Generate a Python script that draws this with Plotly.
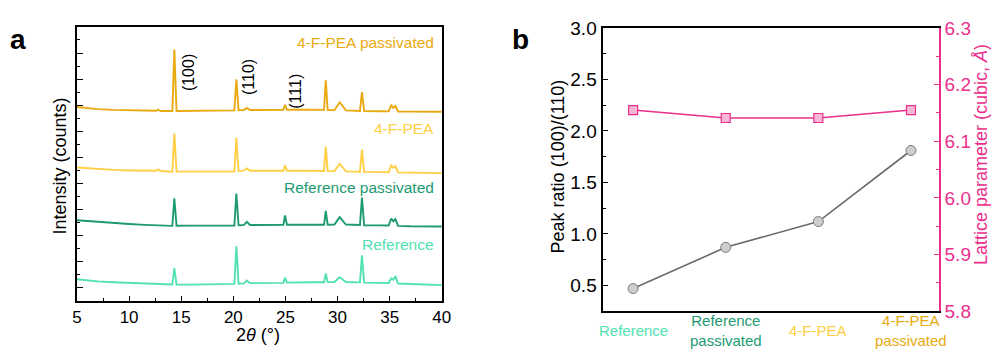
import plotly.graph_objects as go

FONT = "Liberation Sans, Arial, sans-serif"

# ---------------- Panel a: XRD patterns (stacked, arbitrary counts) ----------------
two_theta_ref = [5, 6, 7, 8.5, 10, 11.5, 13, 14.15, 14.34, 14.55, 16, 18, 20.1, 20.29, 20.5, 21.0, 21.3, 21.6,
                 23, 24.8, 24.96, 25.15, 27, 28.7, 28.87, 29.05, 29.7, 30.2, 30.8, 31.5, 32.15, 32.34, 32.55,
                 34, 34.9, 35.15, 35.35, 35.55, 35.8, 37, 38.5, 40]
counts_ref = [660, 570, 494, 430, 371, 320, 260, 250, 1504, 250, 248, 250, 300, 3185, 320, 340, 566, 360,
              371, 380, 782, 400, 422, 430, 1093, 440, 450, 804, 450, 430, 420, 2485, 400,
              380, 370, 732, 620, 898, 330, 299, 250, 205]

two_theta_refp = two_theta_ref
counts_refp = [5184, 5120, 5061, 4970, 4895, 4830, 4773, 4751, 6865, 4760, 4770, 4773, 4780, 7226, 4800, 4810, 5061, 4820,
               4823, 4830, 5545, 4830, 4830, 4830, 5906, 4840, 4850, 5422, 4850, 4830, 4820, 6916, 4800,
               4790, 4780, 5300, 5100, 5256, 4750, 4720, 4710, 4701]

two_theta_fpea = [5, 6, 7, 8.5, 10, 11.5, 12.6, 12.8, 13.0, 14.15, 14.34, 14.55, 16, 18, 20.1, 20.29, 20.5, 21.0, 21.3, 21.6,
                  23, 24.8, 24.96, 25.15, 27, 28.7, 28.87, 29.05, 29.7, 30.2, 30.8, 31.5, 32.15, 32.34, 32.55,
                  34, 34.9, 35.15, 35.35, 35.55, 35.8, 37, 38.5, 40]
counts_fpea = [9225, 9160, 9102, 9040, 9000, 8980, 8970, 9081, 8960, 8908, 11844, 8910, 8908, 8908, 8920, 11505, 8950, 8980, 9153, 8980,
               8980, 8980, 9391, 8980, 8980, 8960, 10834, 8950, 8950, 9514, 8930, 8908, 8900, 10596, 8890,
               8870, 8860, 9391, 9200, 9319, 8850, 8835, 8810, 8792]

two_theta_fpeap = two_theta_fpea
counts_fpeap = [13865, 13780, 13699, 13640, 13598, 13580, 13570, 13670, 13560, 13555, 18267, 13555, 13555, 13560, 13600, 15979, 13620, 13627, 13793, 13630,
                13640, 13648, 14031, 13650, 13650, 13640, 15907, 13630, 13620, 14226, 13600, 13580, 13560, 14998, 13550,
                13540, 13530, 13988, 13800, 13937, 13520, 13510, 13505, 13504]

sample_names = ["Reference", "Reference passivated", "4-F-PEA", "4-F-PEA passivated"]
sample_colors = ["#52E2B1", "#1E9A72", "#FFCF45", "#E8AA10"]

peak_labels = ["(100)", "(110)", "(111)"]
peak_label_x = [15.7, 21.45, 26.0]
peak_label_y = [16500, 16200, 15100]

# ---------------- Panel b ----------------
categories = ["Reference", "Reference<br>passivated", "4-F-PEA", "4-F-PEA<br>passivated"]
peak_ratio = [0.47, 0.87, 1.12, 1.81]
lattice_param = [6.155, 6.141, 6.141, 6.155]

cat_idx = list(range(len(categories)))

PINK = "#EA2F8C"

fig = go.Figure()

series_a = [(two_theta_ref, counts_ref), (two_theta_refp, counts_refp),
            (two_theta_fpea, counts_fpea), (two_theta_fpeap, counts_fpeap)]
for (xx, yy), name, col in zip(series_a, sample_names, sample_colors):
    fig.add_trace(go.Scatter(x=xx, y=yy, mode="lines", name=name,
                             line=dict(color=col, width=1.9), xaxis="x", yaxis="y",
                             showlegend=False, hoverinfo="skip"))

fig.add_trace(go.Scatter(x=cat_idx, y=peak_ratio, mode="lines+markers",
                         line=dict(color="#6a6a6a", width=1.6),
                         marker=dict(symbol="circle", size=10, color="#cdcdcd",
                                     line=dict(color="#7a7a7a", width=1)),
                         xaxis="x2", yaxis="y2", showlegend=False))
fig.add_trace(go.Scatter(x=cat_idx, y=lattice_param, mode="lines+markers",
                         line=dict(color=PINK, width=1.6),
                         marker=dict(symbol="square", size=9, color="#F6B7D6",
                                     line=dict(color=PINK, width=1.2)),
                         xaxis="x2", yaxis="y3", showlegend=False))

PH = 358
def py(px):
    return (PH - px) / PH

annotations = []
# panel a sample labels (right-aligned, inside plot)
label_y_px = [249, 188.5, 126, 35]
for name, col, ypx in zip(sample_names, sample_colors, label_y_px):
    annotations.append(dict(text=name, x=437 / 1001, y=py(ypx), xref="paper", yref="paper",
                            xanchor="right", yanchor="middle", showarrow=False,
                            font=dict(family=FONT, size=15.5, color=col)))
for t, xv, yv in zip(peak_labels, peak_label_x, peak_label_y):
    annotations.append(dict(text=t, x=xv, y=yv, xref="x", yref="y", textangle=-90,
                            xanchor="center", yanchor="middle", showarrow=False,
                            font=dict(family=FONT, size=16, color="black")))
# panel letters
annotations.append(dict(text="<b>a</b>", x=3 / 1001, y=py(31), xref="paper", yref="paper",
                        xanchor="left", yanchor="middle", showarrow=False,
                        font=dict(family=FONT, size=28, color="black")))
annotations.append(dict(text="<b>b</b>", x=512 / 1001, y=py(31), xref="paper", yref="paper",
                        xanchor="left", yanchor="middle", showarrow=False,
                        font=dict(family=FONT, size=28, color="black")))
# panel b category labels
for c, col, i in zip(categories, sample_colors, cat_idx):
    annotations.append(dict(text=c, x=i, y=py(340), xref="x2", yref="paper",
                            xanchor="center", yanchor="middle", showarrow=False,
                            font=dict(family=FONT, size=15, color=col)))
# axis titles
annotations.append(dict(text="Lattice parameter (cubic, <i>Å</i>)", x=990 / 1001, y=py(154),
                        xref="paper", yref="paper", textangle=-90, xanchor="center", yanchor="middle",
                        showarrow=False, font=dict(family=FONT, size=18, color=PINK)))
annotations.append(dict(text="Peak ratio (100)/(110)", x=561 / 1001, y=py(166),
                        xref="paper", yref="paper", textangle=-90, xanchor="center", yanchor="middle",
                        showarrow=False, font=dict(family=FONT, size=18, color="black")))
annotations.append(dict(text="Intensity (counts)", x=56 / 1001, y=py(166),
                        xref="paper", yref="paper", textangle=-90, xanchor="center", yanchor="middle",
                        showarrow=False, font=dict(family=FONT, size=18, color="black")))
annotations.append(dict(text="2<i>θ</i> (°)", x=257 / 1001, y=py(345),
                        xref="paper", yref="paper", xanchor="center", yanchor="middle",
                        showarrow=False, font=dict(family=FONT, size=18, color="black")))

fig.update_layout(
    width=1001, height=358,
    margin=dict(l=0, r=0, t=0, b=0),
    paper_bgcolor="white", plot_bgcolor="white",
    font=dict(family=FONT, size=16, color="black"),
    xaxis=dict(domain=[73 / 1001, 443 / 1001], range=[5, 40], dtick=5, tick0=5,
               ticks="inside", ticklen=5, tickwidth=1.2, tickcolor="black",
               minor=dict(dtick=2.5, ticks="inside", ticklen=3, tickcolor="black"),
               showline=True, linecolor="black", linewidth=2, mirror=True,
               showgrid=False, zeroline=False, tickfont=dict(size=17),
               anchor="y"),
    yaxis=dict(domain=[py(309), py(18)], range=[-1000, 20000], dtick=2000, tick0=0,
               ticks="inside", ticklen=6, tickwidth=1.2, tickcolor="black", showticklabels=False,
               minor=dict(dtick=1000, ticks="inside", ticklen=3, tickcolor="black"),
               showline=True, linecolor="black", linewidth=2, mirror=True,
               showgrid=False, zeroline=False,
               anchor="x"),
    xaxis2=dict(domain=[606 / 1001, 947 / 1001], range=[-0.33, 3.3],
                showticklabels=False, ticks="", showgrid=False, zeroline=False,
                showline=True, linecolor="black", linewidth=2, mirror=True, anchor="y2"),
    yaxis2=dict(domain=[py(320), py(19)], range=[0.25, 3.0], dtick=0.5, tick0=0.5,
                tickformat=".1f", ticks="inside", ticklen=5, tickwidth=1.2, tickcolor="black",
                minor=dict(dtick=0.25, tick0=0.25, ticks="inside", ticklen=3, tickcolor="black"),
                showline=True, linecolor="black", linewidth=2, mirror=False,
                showgrid=False, zeroline=False, tickfont=dict(size=19),
                anchor="x2"),
    yaxis3=dict(domain=[py(320), py(19)], range=[5.8, 6.3], dtick=0.1, tick0=5.8,
                tickformat=".1f", overlaying="y2", side="right", anchor="x2",
                ticks="inside", ticklen=5, tickwidth=1.2, tickcolor=PINK,
                minor=dict(dtick=0.05, ticks="inside", ticklen=3, tickcolor=PINK),
                showline=True, linecolor=PINK, linewidth=2,
                showgrid=False, zeroline=False,
                tickfont=dict(size=19, color=PINK)),
    annotations=annotations,
)

fig.write_html("out.html")
